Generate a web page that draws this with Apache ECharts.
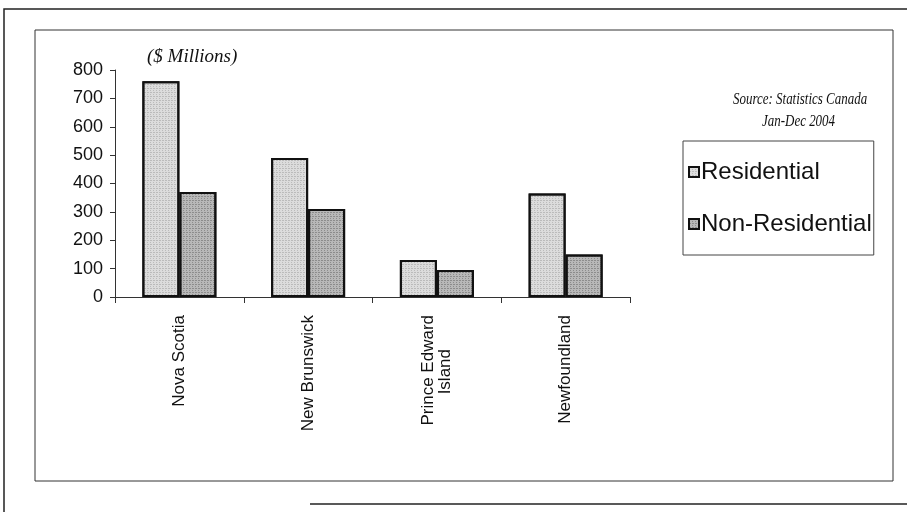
<!DOCTYPE html>
<html>
<head>
<meta charset="utf-8">
<script src="https://cdn.jsdelivr.net/npm/echarts@6/dist/echarts.min.js"></script>
<style>
  html, body { margin: 0; padding: 0; background: #fff; }
  #chart { width: 907px; height: 512px; }
</style>
</head>
<body>
<div id="chart"></div>
<script>
// Building permits by province, Jan-Dec 2004 ($ millions)
const provinces = ['Nova Scotia', 'New Brunswick', 'Prince Edward\nIsland', 'Newfoundland'];
const residential = [760, 490, 130, 365];
const nonResidential = [370, 310, 95, 150];
const yTicks = { min: 0, max: 800, interval: 100 };

const chart = echarts.init(document.getElementById('chart'), null, { renderer: 'canvas' });

const barEdge = { borderColor: '#111', borderWidth: 2 };
const noteFont = '"Liberation Serif", "Times New Roman", serif';
// fine stipple pattern laid over the bar fills
function stipple(alpha) {
  return {
    symbol: 'rect',
    symbolSize: 1,
    dashArrayX: [[1, 2], [2, 1]],
    dashArrayY: [1, 1],
    rotation: 0,
    color: 'rgba(40,40,40,' + alpha + ')'
  };
}

chart.setOption({
  backgroundColor: '#ffffff',
  animation: false,
  textStyle: { fontFamily: 'Liberation Sans, Arial, sans-serif' },
  grid: { left: 115, right: 277, top: 70, bottom: 215, containLabel: false },
  legend: {
    orient: 'vertical',
    left: 683,
    top: 141,
    padding: [19, 2, 19, 5],
    itemGap: 28,
    itemWidth: 10,
    itemHeight: 10,
    borderColor: '#444',
    borderWidth: 1,
    icon: 'rect',
    textStyle: { fontSize: 24, color: '#111', padding: [0, 0, 0, -3] },
    data: ['Residential', 'Non-Residential']
  },
  xAxis: {
    type: 'category',
    data: provinces,
    axisLine: { lineStyle: { color: '#333', width: 1 } },
    axisTick: { show: true, length: 6, inside: false, lineStyle: { color: '#333' } },
    axisLabel: {
      rotate: 90,
      interval: 0,
      margin: 18,
      fontSize: 17,
      color: '#111',
      formatter: function (v) {
        const parts = v.split('\n');
        if (parts.length === 1) return v;
        return '{a|' + parts[0] + '}\n{b|' + parts[1] + '}';
      },
      rich: {
        a: { fontSize: 17, color: '#111' },
        b: { fontSize: 17, color: '#111', padding: [0, 34, 0, 0] }
      }
    }
  },
  yAxis: {
    type: 'value',
    min: yTicks.min,
    max: yTicks.max,
    interval: yTicks.interval,
    splitLine: { show: false },
    axisLine: { show: true, lineStyle: { color: '#333', width: 1 } },
    axisTick: { show: true, length: 5, lineStyle: { color: '#333' } },
    axisLabel: { fontSize: 18, color: '#111', margin: 12 }
  },
  series: [
    {
      name: 'Residential',
      type: 'bar',
      data: residential,
      barWidth: 37,
      barGap: '0%',
      itemStyle: Object.assign({ color: '#dcdcdc', decal: stipple(0.18) }, barEdge)
    },
    {
      name: 'Non-Residential',
      type: 'bar',
      data: nonResidential,
      barWidth: 37,
      barGap: '0%',
      itemStyle: Object.assign({ color: '#b8b8b8', decal: stipple(0.3) }, barEdge)
    }
  ],
  graphic: [
    // outer frame
    {
      type: 'polyline',
      shape: { points: [[4, 512], [4, 9], [907, 9]] },
      style: { stroke: '#222', lineWidth: 1.5, fill: null }
    },
    {
      type: 'line',
      shape: { x1: 310, y1: 504, x2: 907, y2: 504 },
      style: { stroke: '#222', lineWidth: 1.5 }
    },
    // chart area frame
    {
      type: 'rect',
      shape: { x: 35, y: 30, width: 858, height: 451 },
      style: { stroke: '#333', lineWidth: 1, fill: null }
    },
    {
      type: 'text',
      x: 147,
      y: 57,
      style: {
        text: '($ Millions)',
        font: 'italic 19px ' + noteFont,
        fill: '#111',
        verticalAlign: 'middle'
      }
    },
    {
      type: 'text',
      x: 733,
      y: 100,
      scaleX: 0.81,
      style: {
        text: 'Source: Statistics Canada',
        font: 'italic 16px ' + noteFont,
        fill: '#111',
        verticalAlign: 'middle'
      }
    },
    {
      type: 'text',
      x: 762,
      y: 122,
      scaleX: 0.81,
      style: {
        text: 'Jan-Dec 2004',
        font: 'italic 16px ' + noteFont,
        fill: '#111',
        verticalAlign: 'middle'
      }
    }
  ]
});
</script>
</body>
</html>
